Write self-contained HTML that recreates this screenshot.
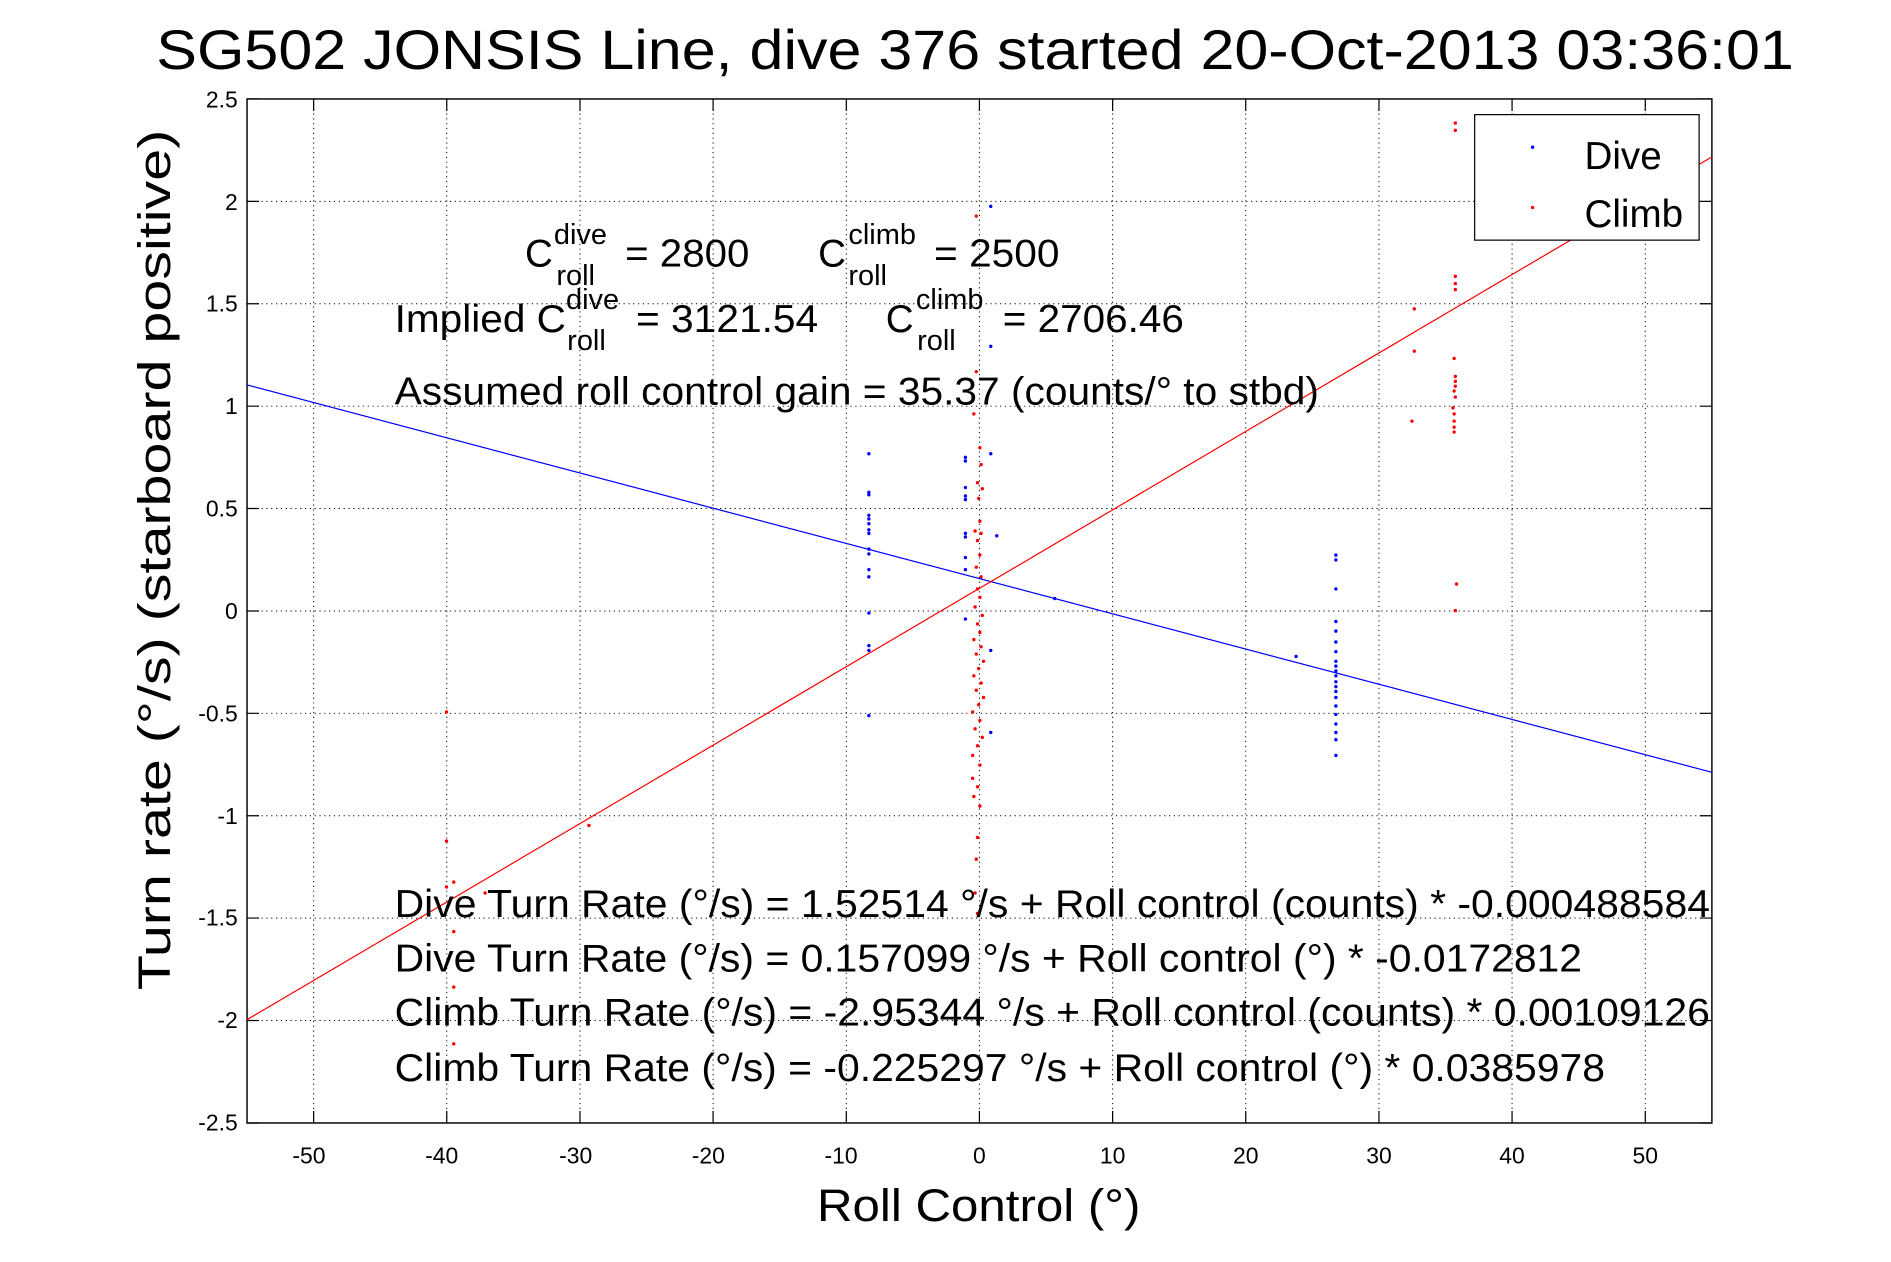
<!DOCTYPE html>
<html><head><meta charset="utf-8"><style>html,body{margin:0;padding:0;background:#fff}svg{display:block}</style></head>
<body>
<svg width="1891" height="1262" viewBox="0 0 1567 1045.8" xmlns="http://www.w3.org/2000/svg" font-family="Liberation Sans, sans-serif">
<rect width="1567" height="1046" fill="#fff"/>
<text x="808" y="57" font-size="46" text-anchor="middle" textLength="1357" lengthAdjust="spacingAndGlyphs">SG502 JONSIS Line, dive 376 started 20-Oct-2013 03:36:01</text>
<g stroke="#000" stroke-width="0.8" stroke-dasharray="1,3">
<line x1="259.9" y1="82" x2="259.9" y2="930.6"/><line x1="370.2" y1="82" x2="370.2" y2="930.6"/><line x1="480.6" y1="82" x2="480.6" y2="930.6"/><line x1="590.9" y1="82" x2="590.9" y2="930.6"/><line x1="701.3" y1="82" x2="701.3" y2="930.6"/><line x1="811.6" y1="82" x2="811.6" y2="930.6"/><line x1="922" y1="82" x2="922" y2="930.6"/><line x1="1032.3" y1="82" x2="1032.3" y2="930.6"/><line x1="1142.7" y1="82" x2="1142.7" y2="930.6"/><line x1="1253" y1="82" x2="1253" y2="930.6"/><line x1="1363.4" y1="82" x2="1363.4" y2="930.6"/>
<line x1="204.7" y1="166.9" x2="1418.6" y2="166.9"/><line x1="204.7" y1="251.7" x2="1418.6" y2="251.7"/><line x1="204.7" y1="336.6" x2="1418.6" y2="336.6"/><line x1="204.7" y1="421.4" x2="1418.6" y2="421.4"/><line x1="204.7" y1="506.3" x2="1418.6" y2="506.3"/><line x1="204.7" y1="591.1" x2="1418.6" y2="591.1"/><line x1="204.7" y1="676" x2="1418.6" y2="676"/><line x1="204.7" y1="760.8" x2="1418.6" y2="760.8"/><line x1="204.7" y1="845.7" x2="1418.6" y2="845.7"/>
</g>
<rect x="204.7" y="82" width="1213.9" height="848.6" fill="none" stroke="#000" stroke-width="1.2"/>
<g stroke="#000" stroke-width="1">
<path d="M259.9 82v10M370.2 82v10M480.6 82v10M590.9 82v10M701.3 82v10M811.6 82v10M922 82v10M1032.3 82v10M1142.7 82v10M1253 82v10M1363.4 82v10"/>
<path d="M259.9 930.6v-10M370.2 930.6v-10M480.6 930.6v-10M590.9 930.6v-10M701.3 930.6v-10M811.6 930.6v-10M922 930.6v-10M1032.3 930.6v-10M1142.7 930.6v-10M1253 930.6v-10M1363.4 930.6v-10"/>
<path d="M204.7 82h10M204.7 166.9h10M204.7 251.7h10M204.7 336.6h10M204.7 421.4h10M204.7 506.3h10M204.7 591.1h10M204.7 676h10M204.7 760.8h10M204.7 845.7h10M204.7 930.6h10"/>
<path d="M1418.6 82h-10M1418.6 166.9h-10M1418.6 251.7h-10M1418.6 336.6h-10M1418.6 421.4h-10M1418.6 506.3h-10M1418.6 591.1h-10M1418.6 676h-10M1418.6 760.8h-10M1418.6 845.7h-10M1418.6 930.6h-10"/>
</g>
<g font-size="19" text-anchor="middle">
<text x="256" y="964">-50</text><text x="366" y="964">-40</text><text x="477" y="964">-30</text><text x="587" y="964">-20</text><text x="697" y="964">-10</text><text x="811.6" y="964">0</text><text x="922" y="964">10</text><text x="1032.3" y="964">20</text><text x="1142.7" y="964">30</text><text x="1253" y="964">40</text><text x="1363.4" y="964">50</text>
</g>
<g font-size="19" text-anchor="end">
<text x="197" y="89">2.5</text><text x="197" y="174">2</text><text x="197" y="258">1.5</text><text x="197" y="343">1</text><text x="197" y="428">0.5</text><text x="197" y="513">0</text><text x="197" y="598">-0.5</text><text x="197" y="683">-1</text><text x="197" y="767">-1.5</text><text x="197" y="852">-2</text><text x="197" y="937">-2.5</text>
</g>
<text x="811" y="1012" font-size="38" text-anchor="middle" textLength="268" lengthAdjust="spacingAndGlyphs">Roll Control (°)</text>
<text transform="translate(141,464) rotate(-90)" font-size="38" text-anchor="middle" textLength="713" lengthAdjust="spacingAndGlyphs">Turn rate (°/s)  (starboard positive)</text>
<line x1="204.7" y1="319" x2="1418.6" y2="640" stroke="#00f" stroke-width="1"/>
<line x1="204.7" y1="845" x2="1418.6" y2="130" stroke="#f00" stroke-width="1"/>
<g fill="#00f">
<circle cx="720" cy="376" r="1.4"/><circle cx="720" cy="408" r="1.4"/><circle cx="720" cy="410" r="1.4"/><circle cx="720" cy="427" r="1.4"/><circle cx="720" cy="430" r="1.4"/><circle cx="720" cy="434" r="1.4"/><circle cx="720" cy="439" r="1.4"/><circle cx="720" cy="442" r="1.4"/><circle cx="720" cy="455" r="1.4"/><circle cx="720" cy="459" r="1.4"/><circle cx="720" cy="472" r="1.4"/><circle cx="720" cy="478" r="1.4"/><circle cx="720" cy="508" r="1.4"/><circle cx="720" cy="535" r="1.4"/><circle cx="720" cy="539" r="1.4"/><circle cx="720" cy="593" r="1.4"/>
<circle cx="800" cy="379" r="1.4"/><circle cx="800" cy="382" r="1.4"/><circle cx="800" cy="404" r="1.4"/><circle cx="800" cy="411" r="1.4"/><circle cx="800" cy="414" r="1.4"/><circle cx="800" cy="442" r="1.4"/><circle cx="800" cy="445" r="1.4"/><circle cx="800" cy="462" r="1.4"/><circle cx="800" cy="472" r="1.4"/><circle cx="800" cy="513" r="1.4"/>
<circle cx="821" cy="171" r="1.4"/><circle cx="821" cy="287" r="1.4"/><circle cx="821" cy="376" r="1.4"/><circle cx="826" cy="444" r="1.4"/><circle cx="821" cy="539" r="1.4"/><circle cx="821" cy="607" r="1.4"/><circle cx="874" cy="496" r="1.4"/><circle cx="1074" cy="544" r="1.4"/>
<circle cx="1107" cy="460" r="1.4"/><circle cx="1107" cy="464" r="1.4"/><circle cx="1107" cy="488" r="1.4"/><circle cx="1107" cy="515" r="1.4"/><circle cx="1107" cy="523" r="1.4"/><circle cx="1107" cy="532" r="1.4"/><circle cx="1107" cy="540" r="1.4"/><circle cx="1107" cy="548" r="1.4"/><circle cx="1107" cy="552" r="1.4"/><circle cx="1107" cy="556" r="1.4"/><circle cx="1107" cy="560" r="1.4"/><circle cx="1107" cy="565" r="1.4"/><circle cx="1107" cy="569" r="1.4"/><circle cx="1107" cy="573" r="1.4"/><circle cx="1107" cy="578" r="1.4"/><circle cx="1107" cy="585" r="1.4"/><circle cx="1107" cy="592" r="1.4"/><circle cx="1107" cy="600" r="1.4"/><circle cx="1107" cy="607" r="1.4"/><circle cx="1107" cy="613" r="1.4"/><circle cx="1107" cy="626" r="1.4"/>
</g>
<g fill="#f00">
<circle cx="809" cy="179" r="1.4"/><circle cx="809" cy="308" r="1.4"/><circle cx="807" cy="343" r="1.4"/><circle cx="812" cy="371" r="1.4"/><circle cx="813" cy="385" r="1.4"/><circle cx="810" cy="400" r="1.4"/><circle cx="814" cy="405" r="1.4"/><circle cx="811" cy="413" r="1.4"/><circle cx="812" cy="432" r="1.4"/><circle cx="808" cy="440" r="1.4"/><circle cx="813" cy="442" r="1.4"/><circle cx="810" cy="448" r="1.4"/><circle cx="812" cy="460" r="1.4"/><circle cx="809" cy="470" r="1.4"/><circle cx="813" cy="478" r="1.4"/><circle cx="810" cy="488" r="1.4"/><circle cx="812" cy="495" r="1.4"/><circle cx="808" cy="503" r="1.4"/><circle cx="814" cy="510" r="1.4"/><circle cx="810" cy="517" r="1.4"/><circle cx="812" cy="524" r="1.4"/><circle cx="807" cy="530" r="1.4"/><circle cx="813" cy="536" r="1.4"/><circle cx="809" cy="542" r="1.4"/><circle cx="815" cy="548" r="1.4"/><circle cx="811" cy="554" r="1.4"/><circle cx="807" cy="560" r="1.4"/><circle cx="813" cy="566" r="1.4"/><circle cx="809" cy="572" r="1.4"/><circle cx="815" cy="578" r="1.4"/><circle cx="811" cy="584" r="1.4"/><circle cx="806" cy="590" r="1.4"/><circle cx="812" cy="597" r="1.4"/><circle cx="808" cy="604" r="1.4"/><circle cx="814" cy="611" r="1.4"/><circle cx="810" cy="618" r="1.4"/><circle cx="806" cy="626" r="1.4"/><circle cx="812" cy="634" r="1.4"/><circle cx="806" cy="645" r="1.4"/><circle cx="810" cy="652" r="1.4"/><circle cx="807" cy="660" r="1.4"/><circle cx="812" cy="668" r="1.4"/><circle cx="810" cy="694" r="1.4"/><circle cx="809" cy="712" r="1.4"/><circle cx="808" cy="740" r="1.4"/><circle cx="810" cy="757" r="1.4"/>
<circle cx="370" cy="590" r="1.4"/><circle cx="370" cy="697" r="1.4"/><circle cx="370" cy="735" r="1.4"/><circle cx="376" cy="731" r="1.4"/><circle cx="402" cy="740" r="1.4"/><circle cx="376" cy="772" r="1.4"/><circle cx="376" cy="818" r="1.4"/><circle cx="376" cy="865" r="1.4"/><circle cx="488" cy="684" r="1.4"/>
<circle cx="1172" cy="256" r="1.4"/><circle cx="1172" cy="291" r="1.4"/><circle cx="1170" cy="349" r="1.4"/>
<circle cx="1206" cy="102" r="1.4"/><circle cx="1206" cy="108" r="1.4"/><circle cx="1206" cy="229" r="1.4"/><circle cx="1206" cy="235" r="1.4"/><circle cx="1206" cy="240" r="1.4"/><circle cx="1205" cy="297" r="1.4"/><circle cx="1206" cy="312" r="1.4"/><circle cx="1206" cy="316" r="1.4"/><circle cx="1206" cy="320" r="1.4"/><circle cx="1205" cy="324" r="1.4"/><circle cx="1206" cy="329" r="1.4"/><circle cx="1204" cy="338" r="1.4"/><circle cx="1205" cy="343" r="1.4"/><circle cx="1205" cy="349" r="1.4"/><circle cx="1205" cy="354" r="1.4"/><circle cx="1205" cy="358" r="1.4"/><circle cx="1207" cy="484" r="1.4"/><circle cx="1206" cy="506" r="1.4"/>
</g>
<rect x="1222" y="95" width="186" height="104" fill="#fff" stroke="#000" stroke-width="1"/>
<circle cx="1270" cy="122" r="1.4" fill="#00f"/><circle cx="1270" cy="172" r="1.4" fill="#f00"/>
<text x="1313" y="140" font-size="32">Dive</text>
<text x="1313" y="188" font-size="32">Climb</text>
<g font-size="32">
<text x="435" y="221">C</text><text x="459" y="202" font-size="24">dive</text><text x="461" y="236" font-size="24">roll</text><text x="518" y="221" textLength="103" lengthAdjust="spacingAndGlyphs">= 2800</text>
<text x="678" y="221">C</text><text x="703" y="202" font-size="24">climb</text><text x="703" y="236" font-size="24">roll</text><text x="774" y="221" textLength="104" lengthAdjust="spacingAndGlyphs">= 2500</text>
<text x="327" y="275" textLength="142" lengthAdjust="spacingAndGlyphs">Implied C</text><text x="469" y="256" font-size="24">dive</text><text x="470" y="290" font-size="24">roll</text><text x="527" y="275" textLength="151" lengthAdjust="spacingAndGlyphs">= 3121.54</text>
<text x="734" y="275">C</text><text x="759" y="256" font-size="24">climb</text><text x="760" y="290" font-size="24">roll</text><text x="831" y="275" textLength="150" lengthAdjust="spacingAndGlyphs">= 2706.46</text>
<text x="327" y="335" textLength="766" lengthAdjust="spacingAndGlyphs">Assumed roll control gain = 35.37 (counts/° to stbd)</text>
<text x="327" y="760" textLength="1090" lengthAdjust="spacingAndGlyphs">Dive Turn Rate (°/s) = 1.52514 °/s + Roll control (counts) * -0.000488584</text>
<text x="327" y="805" textLength="984" lengthAdjust="spacingAndGlyphs">Dive Turn Rate (°/s) = 0.157099 °/s + Roll control (°) * -0.0172812</text>
<text x="327" y="850" textLength="1090" lengthAdjust="spacingAndGlyphs">Climb Turn Rate (°/s) = -2.95344 °/s + Roll control (counts) * 0.00109126</text>
<text x="327" y="896" textLength="1003" lengthAdjust="spacingAndGlyphs">Climb Turn Rate (°/s) = -0.225297 °/s + Roll control (°) * 0.0385978</text>
</g>
</svg>
</body></html>
